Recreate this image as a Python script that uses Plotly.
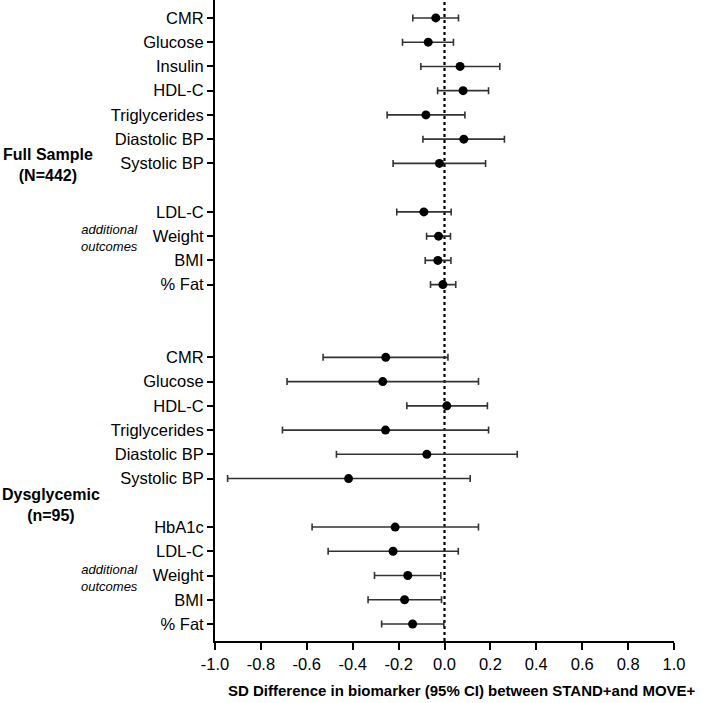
import plotly.graph_objects as go

# ---- Data ----
full_primary_labels = ["CMR", "Glucose", "Insulin", "HDL-C", "Triglycerides", "Diastolic BP", "Systolic BP"]
full_primary_est = [-0.038, -0.071, 0.068, 0.081, -0.081, 0.084, -0.022]
full_primary_lo = [-0.138, -0.183, -0.103, -0.030, -0.250, -0.094, -0.224]
full_primary_hi = [0.061, 0.039, 0.241, 0.192, 0.089, 0.261, 0.179]

full_add_labels = ["LDL-C", "Weight", "BMI", "% Fat"]
full_add_est = [-0.090, -0.026, -0.029, -0.007]
full_add_lo = [-0.208, -0.078, -0.084, -0.061]
full_add_hi = [0.029, 0.026, 0.028, 0.049]

dys_primary_labels = ["CMR", "Glucose", "HDL-C", "Triglycerides", "Diastolic BP", "Systolic BP"]
dys_primary_est = [-0.256, -0.269, 0.010, -0.257, -0.077, -0.418]
dys_primary_lo = [-0.529, -0.686, -0.164, -0.706, -0.471, -0.945]
dys_primary_hi = [0.015, 0.148, 0.187, 0.192, 0.317, 0.112]

dys_add_labels = ["HbA1c", "LDL-C", "Weight", "BMI", "% Fat"]
dys_add_est = [-0.215, -0.224, -0.160, -0.174, -0.139]
dys_add_lo = [-0.577, -0.507, -0.305, -0.333, -0.274]
dys_add_hi = [0.148, 0.060, -0.016, -0.013, -0.003]

x_tick_vals = [-1.0, -0.8, -0.6, -0.4, -0.2, 0.0, 0.2, 0.4, 0.6, 0.8, 1.0]
x_title = "SD Difference in biomarker (95% CI) between STAND+and MOVE+"

# ---- Assemble rows with gaps between blocks ----
blocks = [
    (full_primary_labels, full_primary_est, full_primary_lo, full_primary_hi, 1),
    (full_add_labels, full_add_est, full_add_lo, full_add_hi, 2),
    (dys_primary_labels, dys_primary_est, dys_primary_lo, dys_primary_hi, 1),
    (dys_add_labels, dys_add_est, dys_add_lo, dys_add_hi, 0),
]
ys, labels, est, lo, hi = [], [], [], [], []
pos = 0
for lab, e, l, h, gap_after in blocks:
    for i in range(len(lab)):
        ys.append(pos)
        labels.append(lab[i])
        est.append(e[i])
        lo.append(l[i])
        hi.append(h[i])
        pos += 1
    pos += gap_after

err_plus = [h - e for h, e in zip(hi, est)]
err_minus = [e - l for e, l in zip(est, lo)]

fig = go.Figure()

# zero reference line
fig.add_shape(type="line", xref="x", yref="paper", x0=0, x1=0, y0=0, y1=1,
              line=dict(color="black", width=2.2, dash="dot"), layer="below")

fig.add_trace(go.Scatter(
    x=est, y=ys, mode="markers",
    marker=dict(color="black", size=9),
    error_x=dict(type="data", symmetric=False, array=err_plus, arrayminus=err_minus,
                 color="#333333", thickness=1.6, width=3.5),
    showlegend=False,
))

font_main = "Liberation Sans, Arial, sans-serif"

fig.update_xaxes(
    range=[-1.0, 1.0], tickvals=x_tick_vals,
    ticktext=[f"{v:.1f}" for v in x_tick_vals],
    showgrid=False, zeroline=False,
    showline=True, linecolor="black", linewidth=2,
    ticks="outside", ticklen=7, tickwidth=2, tickcolor="black",
    tickfont=dict(family=font_main, size=16.5, color="black"),
)
fig.update_yaxes(
    range=[25.7, -0.74], tickvals=ys, ticktext=labels,
    showgrid=False, zeroline=False,
    showline=True, linecolor="black", linewidth=2,
    ticks="outside", ticklen=6, tickwidth=2, tickcolor="black",
    tickfont=dict(family=font_main, size=16.5, color="black"),
)

ann_bold = dict(family=font_main, size=16, color="black")
ann_it = dict(family=font_main, size=13, color="black")
annotations = [
    dict(text="<b>Full Sample<br>(N=442)</b>", x=-0.364, y=6.06, yref="y", font=ann_bold),
    dict(text="<b>Dysglycemic<br>(n=95)</b>", x=-0.357, y=20.08, yref="y", font=ann_bold),
    dict(text="<i>additional<br>outcomes</i>", x=-0.229, y=9.07, yref="y", font=ann_it),
    dict(text="<i>additional<br>outcomes</i>", x=-0.229, y=23.09, yref="y", font=ann_it),
    dict(text="<b>" + x_title + "</b>", x=0.538, y=-0.0765, yref="paper",
         font=dict(family=font_main, size=15, color="black")),
]
for a in annotations:
    fig.add_annotation(xref="paper", showarrow=False, align="center",
                       xanchor="center", yanchor="middle", **a)

fig.update_layout(
    width=709, height=703,
    margin=dict(l=215, r=35, t=0, b=62),
    plot_bgcolor="white", paper_bgcolor="white",
)

fig.write_html("out.html", config={"displayModeBar": False},
               post_script="document.body.style.margin='0';")
